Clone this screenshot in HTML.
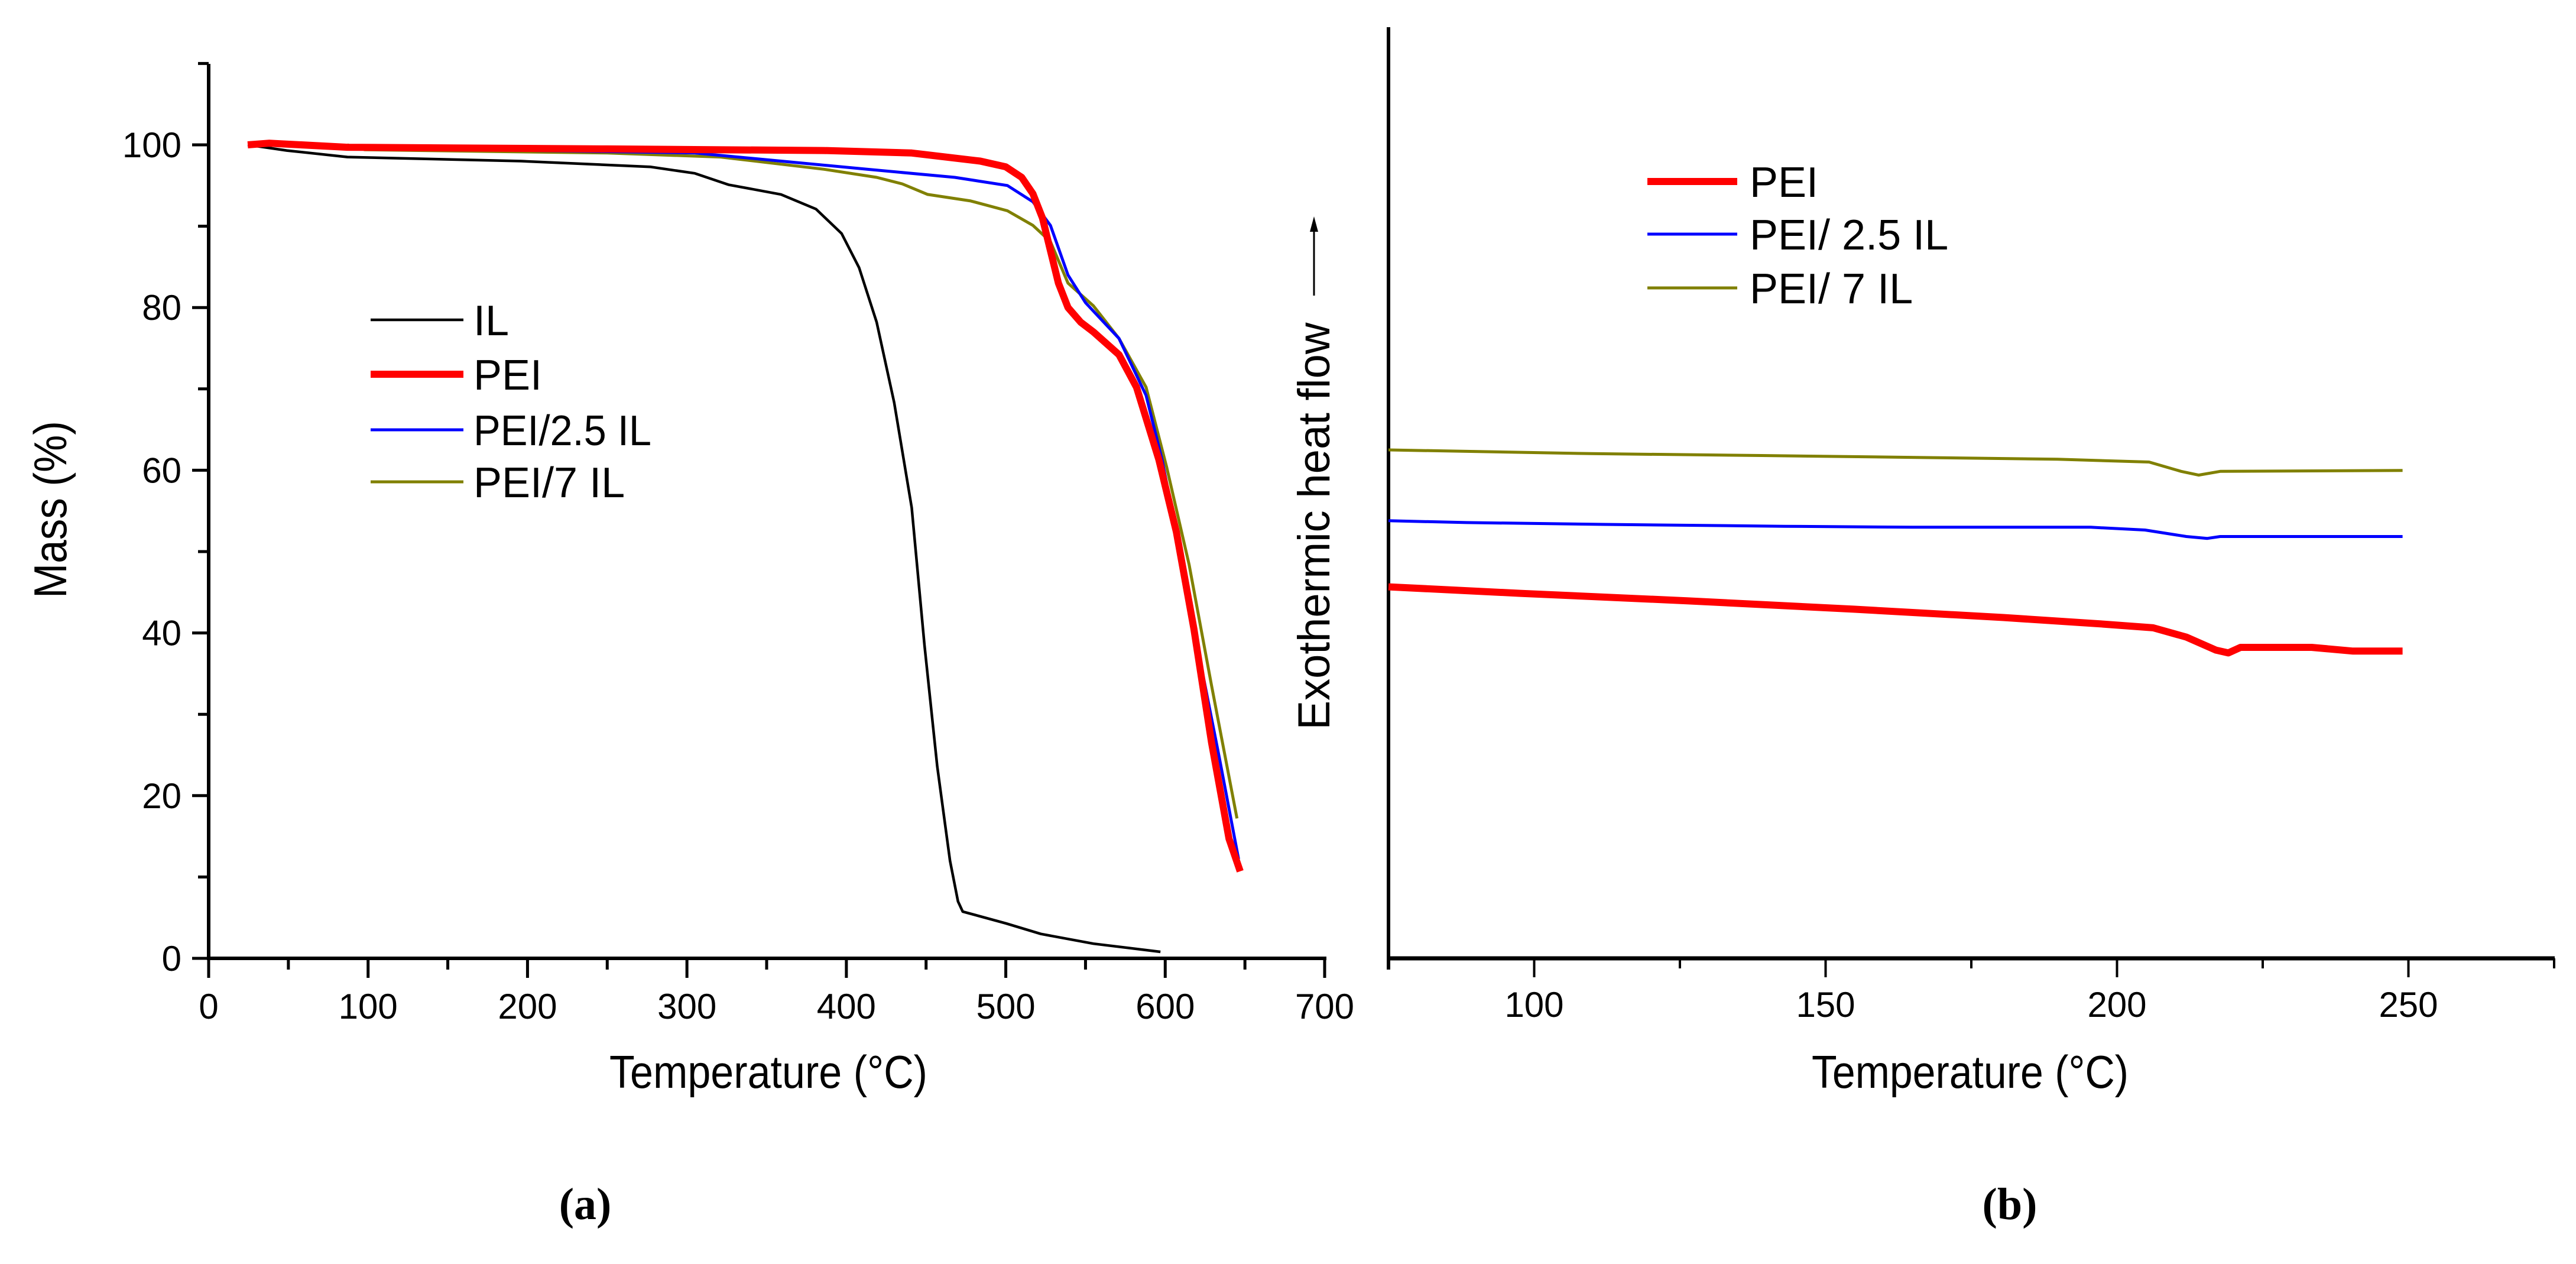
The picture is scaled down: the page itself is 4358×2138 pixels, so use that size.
<!DOCTYPE html>
<html><head><meta charset="utf-8"><style>
html,body{margin:0;padding:0;background:#fff}
svg{display:block}
text{font-family:"Liberation Sans",Arial,sans-serif;fill:#000}
</style></head><body>
<svg id="fig" width="4358" height="2138" viewBox="0 0 4358 2138" xmlns="http://www.w3.org/2000/svg">
<rect width="4358" height="2138" fill="#fff"/>
<g id="panelA"></g>
<g id="panelB"></g>
<text x="990" y="2062" text-anchor="middle" style="font-family:'Liberation Serif',serif;font-weight:bold;font-size:76px">(a)</text>
<text x="3400" y="2062" text-anchor="middle" style="font-family:'Liberation Serif',serif;font-weight:bold;font-size:76px">(b)</text>
</svg>
<script>
// ---- Panel A data (TGA) ----
const ilTemp = [24.5,49,87,196,277,305,326,359,381,397,408,419,430,441,449,457,465,470,473,500,522,555,597];
const ilMass = [100,99.3,98.5,98,97.3,96.5,95.1,93.9,92.1,89.1,84.9,78.2,68.3,55.4,38.5,23.6,12,7,5.75,4.3,3.0,1.8,0.8];
const peiTemp = [24.5,38,87,250,386,441,484,500,510,517,523,528,533,539,547,555,571,582,596,607,618,629,640,647];
const peiMass = [100,100.2,99.7,99.5,99.3,99,98,97.3,96,94,91,87,83,80,78.2,77,74.2,70.2,61.3,52.4,40.5,26.6,14.7,10.7];
const pei25Temp = [24.5,141,305,359,413,468,501,517,528,539,550,571,588,598,609,620,634,646];
const pei25Mass = [100,99.5,99,98,97,96,95,93,90.1,84,80.6,76.2,69.2,61.3,50.4,38.5,24.6,12.2];
const pei7Temp = [87,98,250,321,386,419,435,451,478,501,517,528,539,555,571,588,601,615,629,645];
const pei7Mass = [100,99.4,99,98.5,97,96,95.2,93.9,93.1,91.9,90.1,88.1,83,80.2,76.2,70.2,60.3,48.4,33.6,17.2];
const aXTicks = [0,100,200,300,400,500,600,700];
const aYTicks = [0,20,40,60,80,100];
const aLegend = ["IL","PEI","PEI/2.5 IL","PEI/7 IL"];

// ---- Panel B data (DSC) ----
const bPeiTemp = [75,97.6,126.2,154.8,180.5,197.6,206.2,211.9,217,219.1,221.2,233.4,240.5,249];
const bPeiFlow = [39.9,39.2,38.4,37.5,36.6,35.9,35.5,34.5,33.1,32.8,33.4,33.4,33.0,33.0];
const bPei25Temp = [75,88.4,112,143,164.8,195.5,204.8,211.9,215.5,217.7,249];
const bPei25Flow = [47.0,46.8,46.6,46.4,46.3,46.3,46.0,45.3,45.1,45.3,45.3];
const bPei7Temp = [75,109.8,139,165.6,189.8,205.5,211,214,217.7,249];
const bPei7Flow = [54.6,54.2,54.0,53.8,53.6,53.3,52.3,51.9,52.3,52.4];
const bXTicks = [100,150,200,250];
const bLegend = ["PEI","PEI/ 2.5 IL","PEI/ 7 IL"];

const NS = "http://www.w3.org/2000/svg";
function mk(parent, tag, attrs, txt){
  const e = document.createElementNS(NS, tag);
  for (const k in attrs) e.setAttribute(k, attrs[k]);
  if (txt !== undefined) e.textContent = txt;
  parent.appendChild(e);
  return e;
}
const ax = t => 353 + (t - 0) * (2241 - 353) / 700;
const ay = m => 1621 - m * 13.76;
const bx = t => 2349 + (t - 75) * (4321 - 2349) / 200;
const by = v => 1621 - v * 15.75;

function pathD(xs, ys, sx, sy){
  return xs.map((t,i)=> (i?"L":"M") + sx(t).toFixed(1) + "," + sy(ys[i]).toFixed(1)).join(" ");
}

// ---------- Panel A ----------
const A = document.getElementById("panelA");
let e;
e = mk(A,"line",{x1:353,y1:108,x2:353,y2:1624,stroke:"#000","stroke-width":6});


e = mk(A,"line",{x1:350,y1:1621,x2:2244,y2:1621,stroke:"#000","stroke-width":6});


for (let t=0;t<=700;t+=50){
  const major = t%100===0;
  e = mk(A,"line",{x1:ax(t),y1:1621,x2:ax(t),y2:major?1654:1640,stroke:"#000","stroke-width":5});
  
  
}
aXTicks.forEach(t=>{
  e = mk(A,"text",{x:ax(t),y:1723,"text-anchor":"middle","font-size":60},String(t));
  
  
});
for (let m=0;m<=110;m+=10){
  const major = m%20===0 && m<=100;
  e = mk(A,"line",{x1:major?325:335,y1:ay(m),x2:353,y2:ay(m),stroke:"#000","stroke-width":5});
  
  
}
aYTicks.forEach(m=>{
  e = mk(A,"text",{x:307,y:ay(m)+21,"text-anchor":"end","font-size":60},String(m));
  
  
});
e = mk(A,"text",{x:0,y:0,"text-anchor":"middle","font-size":78,transform:"translate(112,862) rotate(-90)",textLength:300,lengthAdjust:"spacingAndGlyphs"},"Mass (%)");


e = mk(A,"text",{x:1300,y:1840,"text-anchor":"middle","font-size":78,textLength:538,lengthAdjust:"spacingAndGlyphs"},"Temperature (°C)");



const aSeries = [
  {xs:ilTemp, ys:ilMass, c:"#000", w:4.5, n:"series-il"},
  {xs:pei7Temp, ys:pei7Mass, c:"#808000", w:5, n:"series-pei-7il"},
  {xs:pei25Temp, ys:pei25Mass, c:"#0000ff", w:5, n:"series-pei-2-5il"},
  {xs:peiTemp, ys:peiMass, c:"#ff0000", w:12, n:"series-pei"}
];
aSeries.forEach(s=>{
  e = mk(A,"path",{d:pathD(s.xs,s.ys,ax,ay),fill:"none",stroke:s.c,"stroke-width":s.w,"stroke-linejoin":"round"});
  
  
});
const aLegCols = ["#000","#ff0000","#0000ff","#808000"];
const aLegW = [4.5,12,5,5];
const aLegY = [541,633,727,815];
const aLegLen = [null,null,301,null];
aLegend.forEach((lab,i)=>{
  e = mk(A,"line",{x1:627,y1:aLegY[i],x2:784,y2:aLegY[i],stroke:aLegCols[i],"stroke-width":aLegW[i]});
  
  
  const attrs = {x:801,y:aLegY[i]+26,"font-size":72};
  if (aLegLen[i]) { attrs.textLength = aLegLen[i]; attrs.lengthAdjust = "spacingAndGlyphs"; }
  e = mk(A,"text",attrs,lab);
  
  
});

// ---------- Panel B ----------
const B = document.getElementById("panelB");
e = mk(B,"line",{x1:2349,y1:46,x2:2349,y2:1640,stroke:"#000","stroke-width":6});


e = mk(B,"line",{x1:2346,y1:1621,x2:4322,y2:1621,stroke:"#000","stroke-width":7});


for (let t=75;t<=275;t+=25){
  const major = t%50===0;
  e = mk(B,"line",{x1:bx(t),y1:1621,x2:bx(t),y2:major?1653:1638,stroke:"#000","stroke-width":4});
  
  
}
bXTicks.forEach(t=>{
  e = mk(B,"text",{x:bx(t),y:1720,"text-anchor":"middle","font-size":60},String(t));
  
  
});
e = mk(B,"text",{x:3333,y:1840,"text-anchor":"middle","font-size":78,textLength:536,lengthAdjust:"spacingAndGlyphs"},"Temperature (°C)");


e = mk(B,"text",{x:0,y:0,"text-anchor":"middle","font-size":76,transform:"translate(2249,890) rotate(-90)",textLength:689,lengthAdjust:"spacingAndGlyphs"},"Exothermic heat flow");


e = mk(B,"line",{x1:2223,y1:385,x2:2223,y2:500,stroke:"#000","stroke-width":3});


e = mk(B,"path",{d:"M2216,392 L2223,366 L2230,392 Z",fill:"#000"});



const bSeries = [
  {xs:bPei7Temp, ys:bPei7Flow, c:"#808000", w:5, n:"dsc-pei-7il"},
  {xs:bPei25Temp, ys:bPei25Flow, c:"#0000ff", w:5, n:"dsc-pei-2-5il"},
  {xs:bPeiTemp, ys:bPeiFlow, c:"#ff0000", w:12, n:"dsc-pei"}
];
bSeries.forEach(s=>{
  e = mk(B,"path",{d:pathD(s.xs,s.ys,bx,by),fill:"none",stroke:s.c,"stroke-width":s.w,"stroke-linejoin":"round"});
  
  
});
const bLegCols = ["#ff0000","#0000ff","#808000"];
const bLegW = [12,5,5];
const bLegY = [307,396,487];
bLegend.forEach((lab,i)=>{
  e = mk(B,"line",{x1:2787,y1:bLegY[i],x2:2939,y2:bLegY[i],stroke:bLegCols[i],"stroke-width":bLegW[i]});
  
  
  e = mk(B,"text",{x:2960,y:bLegY[i]+26,"font-size":72},lab);
  
  
});
</script>
</body></html>
